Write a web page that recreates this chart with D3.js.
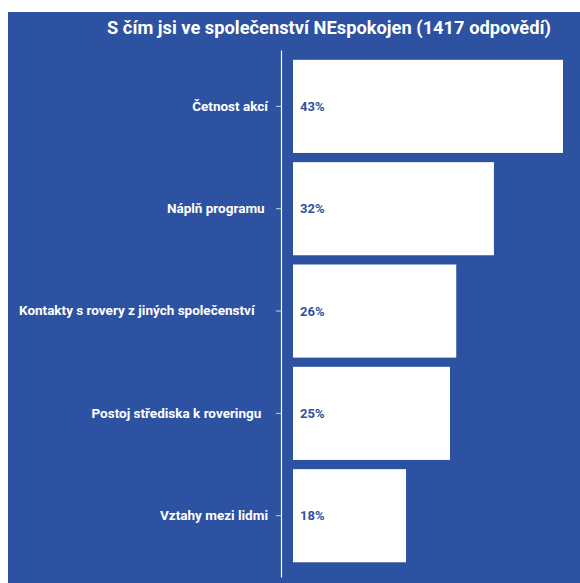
<!DOCTYPE html>
<html>
<head>
<meta charset="utf-8">
<script src="https://cdn.jsdelivr.net/npm/d3@7"></script>
<style>
  html, body { margin: 0; padding: 0; background: #ffffff; }
  svg { display: block; font-family: Roboto, "Noto Sans", sans-serif; }
</style>
</head>
<body>
<svg id="chart" width="580" height="583"></svg>
<script>
// Survey answers: what rovers are dissatisfied with in their group
const title = "S čím jsi ve společenství NEspokojen (1417 odpovědí)";
const categories = [
  "Četnost akcí",
  "Náplň programu ",
  "Kontakty s rovery z jiných společenství    ",
  "Postoj střediska k roveringu  ",
  "Vztahy mezi lidmi"
];
const values = [43, 32, 26, 25, 18];
const valueLabels = ["43%", "32%", "26%", "25%", "18%"];

const W = 580, H = 583;
const blue = "#2d52a1";
const svg = d3.select("#chart");

// blue panel behind everything
svg.append("rect")
  .attr("x", 8).attr("y", 12)
  .attr("width", W - 8).attr("height", H - 12)
  .attr("fill", blue);

svg.append("text")
  .attr("x", 329).attr("y", 34)
  .attr("text-anchor", "middle")
  .attr("fill", "#ffffff")
  .attr("font-size", 18.3)
  .attr("font-weight", 700)
  .text(title);

const y = d3.scaleBand()
  .domain(categories)
  .range([50, 577])
  .paddingInner(0.09)
  .paddingOuter(0.12)
  .align(0.4);

const x = d3.scaleLinear()
  .domain([0, 43])
  .range([293, 563]);

// bars
svg.append("g").selectAll("rect")
  .data(values)
  .join("rect")
  .attr("x", x(0))
  .attr("y", (d, i) => y(categories[i]))
  .attr("width", d => x(d) - x(0))
  .attr("height", y.bandwidth())
  .attr("fill", "#ffffff");

// value labels inside bars
svg.append("g").selectAll("text")
  .data(values)
  .join("text")
  .attr("x", x(0) + 7)
  .attr("y", (d, i) => y(categories[i]) + y.bandwidth() / 2)
  .attr("dy", "0.35em")
  .attr("fill", blue)
  .attr("font-size", 13)
  .attr("font-weight", 700)
  .text((d, i) => valueLabels[i]);

// category axis
const axis = svg.append("g")
  .attr("transform", "translate(281,0)")
  .call(d3.axisLeft(y).tickSize(5).tickPadding(8).tickSizeOuter(0));

axis.select(".domain").attr("stroke", "#ffffff").attr("stroke-width", 1.2);
axis.selectAll(".tick line").attr("stroke", "#c8d2e8");
axis.selectAll(".tick text")
  .attr("fill", "#ffffff")
  .attr("font-size", 13.5)
  .attr("font-weight", 700)
  .attr("font-family", "Roboto, 'Noto Sans', sans-serif")
  .style("white-space", "pre");
</script>
</body>
</html>
